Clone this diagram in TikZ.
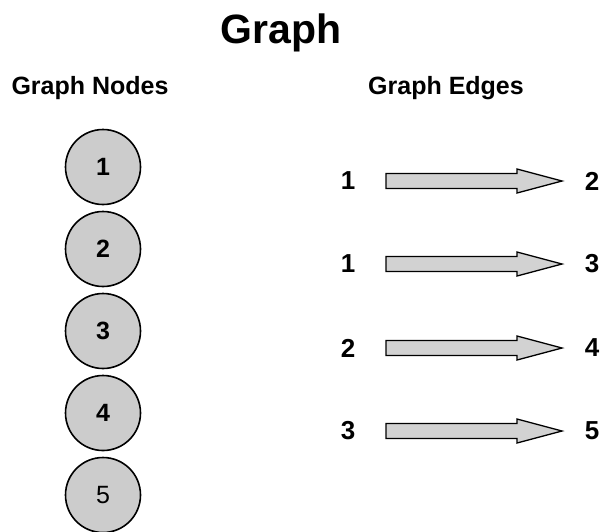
\documentclass[tikz,border=0pt]{standalone}
\usepackage{fontspec}
\setmainfont{Liberation Sans}
\begin{document}
\begin{tikzpicture}[x=1pt,y=-1pt,
  gnode/.style={circle,draw=black,line width=1.6pt,fill=gray!40,minimum size=75pt,inner sep=0pt,font=\fontsize{25}{25}\selectfont\bfseries},
  lbl/.style={font=\fontsize{26}{26}\selectfont\bfseries,inner sep=0pt},
  hdr/.style={font=\fontsize{25}{25}\selectfont\bfseries,inner sep=0pt},
  earrow/.style={draw=black,line width=1.3pt,fill=gray!35,line join=miter}]
\useasboundingbox (0,0) rectangle (601,531);
\node[font=\fontsize{41}{41}\selectfont\bfseries,inner sep=0pt] (title) at (281,33) {Graph};
\node[hdr] (hn) at (90,88) {Graph Nodes};
\node[hdr] (he) at (446,88) {Graph Edges};
\node[gnode] (n1) at (103,167) {1};
\node[gnode] (n2) at (103,249) {2};
\node[gnode] (n3) at (103,331) {3};
\node[gnode] (n4) at (103,413) {4};
\node[gnode,font=\fontsize{25}{25}\selectfont] (n5) at (103,495) {5};
\foreach \i/\a/\b/\y in {1/1/2/181,2/1/3/264,3/2/4/348,4/3/5/431}{
  \node[lbl] (s\i) at (348,\y) {\a};
  \node[lbl] (t\i) at (592,\y) {\b};
  \draw[earrow] (386,\y-7.5) -- (517,\y-7.5) -- (517,\y-12) -- (562,\y) -- (517,\y+12) -- (517,\y+7.5) -- (386,\y+7.5) -- cycle;
}
\end{tikzpicture}
\end{document}
